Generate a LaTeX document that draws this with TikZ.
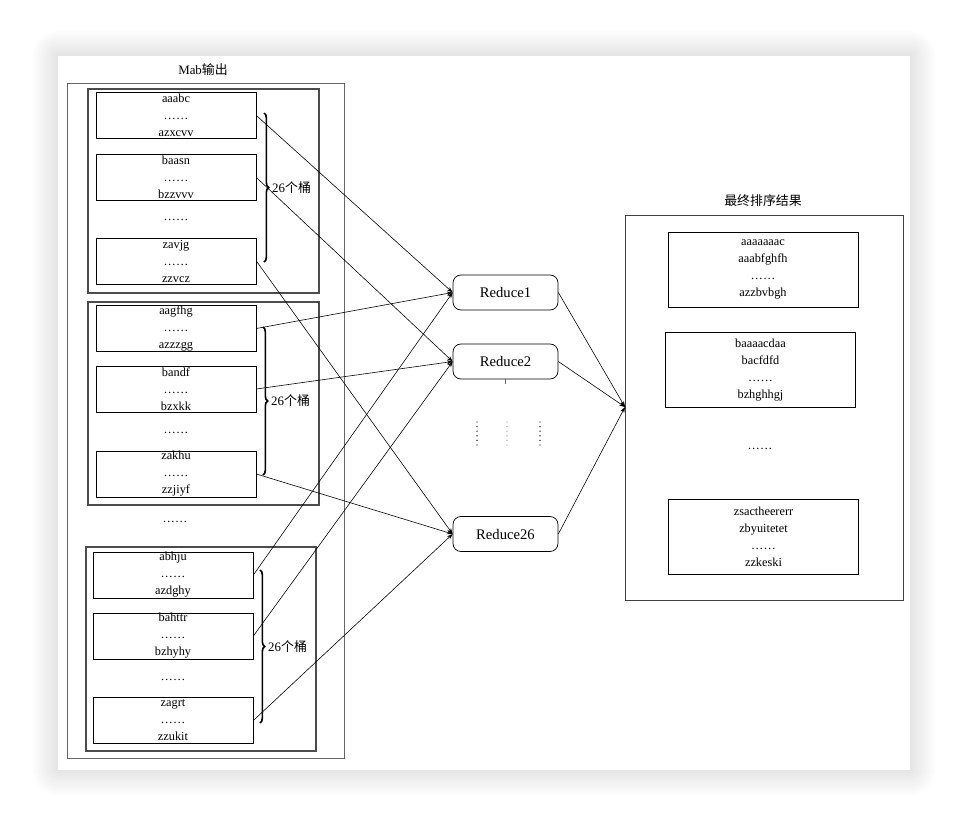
\documentclass[tikz,border=0pt]{standalone}
\usepackage{fontspec}
\setmainfont{Liberation Serif}
\newfontfamily\cjk{Noto Sans CJK SC}
\usetikzlibrary{positioning,arrows.meta,decorations.pathreplacing}

\tikzset{
  bucket/.style = {draw, line width=0.6pt, minimum width=48mm, minimum height=13.8mm,
    inner sep=0pt, align=center, font=\fontsize{10.5pt}{14.5pt}\selectfont},
  sorted/.style = {draw, line width=0.6pt, minimum width=57mm, minimum height=22.5mm,
    inner sep=0pt, align=center, font=\fontsize{10.5pt}{14.5pt}\selectfont},
  reducer/.style = {draw, line width=0.6pt, rounded corners=2.4mm, minimum width=31.5mm,
    minimum height=10.5mm, font=\fontsize{12.5pt}{14pt}\selectfont},
  frame/.style = {draw=black!70, line width=0.9pt},
  outer/.style = {draw=black!60, line width=0.5pt},
  label/.style = {font=\fontsize{11pt}{13pt}\selectfont},
  etc/.style = {font=\fontsize{10.5pt}{12pt}\selectfont},
  bucketbrace/.style = {decorate, decoration={brace, amplitude=4pt}, line width=1.4pt},
  link/.style = {line width=0.5pt, -{Stealth[length=5pt, width=3.5pt]}},
}

\begin{document}
\begin{tikzpicture}[x=0.3mm, y=-0.3mm]
  \useasboundingbox (0,0) rectangle (968,827);

  % page with soft shadow
  \foreach \d in {1,...,26}
    \fill[black, opacity=0.0045, rounded corners=\d*0.3mm] (58-\d,56-\d) rectangle (910+\d,770+\d);
  \fill[white] (58,56) rectangle (910,770);

  % map output
  \node[label] (mab) at (203,70) {Mab{\cjk 输出}};
  \draw[outer] (67,83) rectangle (344,758);

  \draw[frame] (88,89) rectangle (319,293);
  \node[bucket] (a1) at (176,115.5) {aaabc\\……\\azxcvv};
  \node[bucket] (a2) at (176,177.5) {baasn\\……\\bzzvvv};
  \node[etc] (a0) at (176,220) {……};
  \node[bucket] (a3) at (176,261) {zavjg\\……\\zzvcz};
  \draw[bucketbrace] (264,113) -- (264,262)
    node[midway, right=3pt, label] {26{\cjk 个桶}};

  \draw[frame] (88,302) rectangle (319,505);
  \node[bucket] (b1) at (176,328.5) {aagfhg\\……\\azzzgg};
  \node[bucket] (b2) at (176,389) {bandf\\……\\bzxkk};
  \node[etc] (b0) at (176,433) {……};
  \node[bucket] (b3) at (176,474) {zakhu\\……\\zzjiyf};
  \draw[bucketbrace] (263,327) -- (263,475)
    node[midway, right=3pt, label] {26{\cjk 个桶}};

  \node[etc] (gap) at (175,522) {……};

  \draw[frame] (86,547) rectangle (316,751);
  \node[bucket] (c1) at (173,575) {abhju\\……\\azdghy};
  \node[bucket] (c2) at (173,636) {bahttr\\……\\bzhyhy};
  \node[etc] (c0) at (173,680) {……};
  \node[bucket] (c3) at (173,720.5) {zagrt\\……\\zzukit};
  \draw[bucketbrace] (260,570) -- (260,723)
    node[midway, right=3pt, label] {26{\cjk 个桶}};

  % reducers
  \node[reducer] (r1) at (505.5,292.5) {Reduce1};
  \node[reducer] (r2) at (505.5,361.5) {Reduce2};
  \node[reducer] (r26) at (505.5,534) {Reduce26};
  \draw[line width=0.4pt, black!60] (r2.south) -- ++(0,5);
  \foreach \x/\c in {477/black, 507/black!40, 540/black}
    \foreach \k in {0,...,5}
      \fill[\c] (\x,422+\k*4.6) circle (0.6pt);

  % final result
  \node[label] (res) at (763,201) {\cjk 最终排序结果};
  \draw[outer, draw=black!75] (625,215) rectangle (903,600);
  \node[sorted] (s1) at (763,269.5) {aaaaaaac\\aaabfghfh\\……\\azzbvbgh};
  \node[sorted] (s2) at (760.5,370) {baaaacdaa\\bacfdfd\\……\\bzhghhgj};
  \node[etc] (s0) at (760,449) {……};
  \node[sorted] (s3) at (763.5,536.5) {zsactheererr\\zbyuitetet\\……\\zzkeski};
  \coordinate (merge) at (625,407);

  \foreach \b/\r in {a1/r1, a2/r2, a3/r26, b1/r1, b2/r2, b3/r26, c1/r1, c2/r2, c3/r26}
    \draw[link] (\b.east) -- (\r.west);
  \foreach \r in {r1, r2, r26}
    \draw[link] (\r.east) -- (merge);
\end{tikzpicture}
\end{document}
